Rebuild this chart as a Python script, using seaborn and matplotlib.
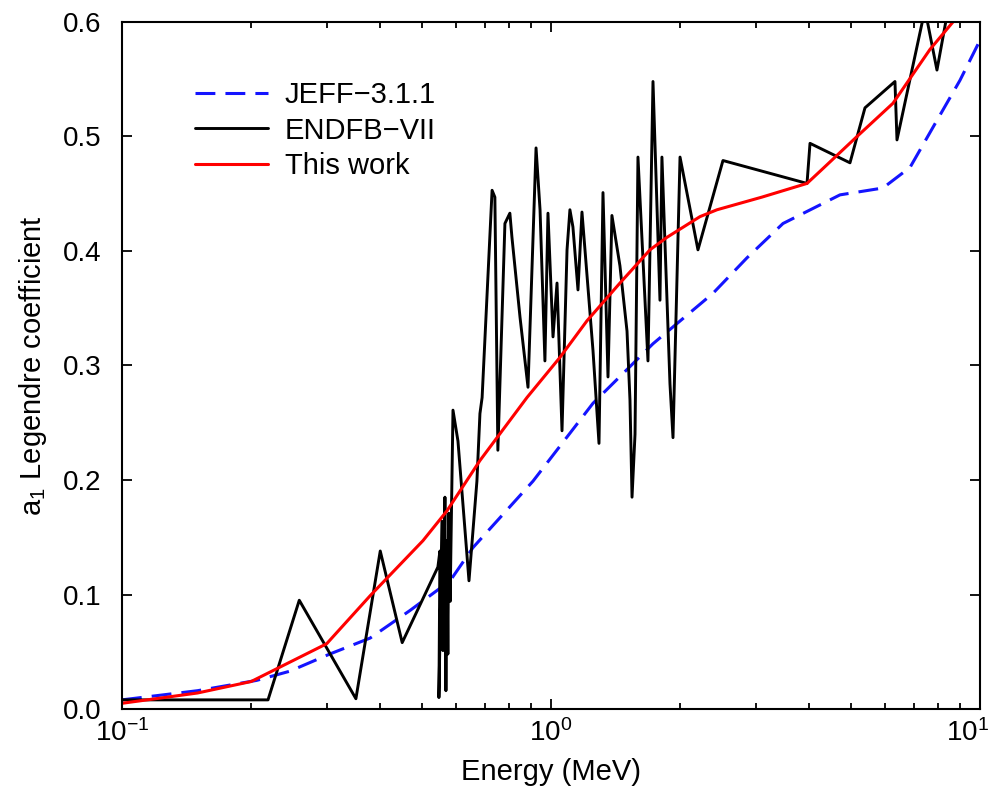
import numpy as np
import pandas as pd
import seaborn as sns
import matplotlib
matplotlib.use("Agg")
import matplotlib.pyplot as plt
import matplotlib.transforms as mtransforms
from matplotlib.ticker import LogLocator, FormatStrFormatter, NullFormatter, MultipleLocator

# JEFF-3.1.1 (blue dashed)
jeff_e = [0.1, 0.15, 0.206, 0.246, 0.305, 0.379, 0.469, 0.582, 0.658, 0.908, 1.253, 1.729,
          2.385, 2.863, 3.474, 4.717, 5.94, 6.87, 7.77, 8.98, 10.0]
jeff_a1 = [0.008, 0.016, 0.025, 0.033, 0.048, 0.062, 0.086, 0.112, 0.141, 0.199, 0.267, 0.319,
           0.363, 0.394, 0.424, 0.449, 0.455, 0.473, 0.508, 0.549, 0.584]

# ENDFB-VII (black)
endf_e = [0.100, 0.219, 0.259, 0.351, 0.400, 0.450, 0.545, 0.551, 0.548, 0.557, 0.560, 0.566,
          0.569, 0.572, 0.575, 0.578, 0.582, 0.591, 0.607, 0.644, 0.672, 0.683, 0.691, 0.729,
          0.740, 0.752, 0.781, 0.802, 0.811, 0.847, 0.884, 0.923, 0.943, 0.968, 0.984, 1.011,
          1.033, 1.061, 1.090, 1.107, 1.125, 1.156, 1.181, 1.253, 1.294, 1.322, 1.358, 1.387,
          1.448, 1.504, 1.528, 1.545, 1.570, 1.595, 1.683, 1.729, 1.795, 1.814, 1.894, 1.925,
          1.999, 2.201, 2.517, 3.952, 4.016, 4.977, 5.394, 6.336, 6.405, 7.444, 7.938, 8.51, 9.48]
endf_a1 = [0.008, 0.008, 0.095, 0.009, 0.138, 0.058, 0.124, 0.138, 0.010, 0.164, 0.051, 0.185,
           0.016, 0.147, 0.048, 0.171, 0.094, 0.261, 0.234, 0.112, 0.199, 0.258, 0.272, 0.453,
           0.447, 0.226, 0.424, 0.433, 0.412, 0.342, 0.281, 0.490, 0.436, 0.304, 0.433, 0.325,
           0.372, 0.243, 0.401, 0.436, 0.421, 0.366, 0.434, 0.313, 0.232, 0.451, 0.290, 0.431,
           0.387, 0.330, 0.270, 0.185, 0.240, 0.482, 0.304, 0.548, 0.357, 0.482, 0.284, 0.237,
           0.482, 0.401, 0.479, 0.459, 0.494, 0.477, 0.525, 0.548, 0.497, 0.611, 0.558, 0.620, 0.650]

# This work (red)
work_e = [0.1, 0.15, 0.2, 0.3, 0.379, 0.503, 0.572, 0.683, 0.879, 1.049, 1.213, 1.448,
          1.701, 1.865, 2.225, 2.438, 3.1, 3.952, 4.305, 5.169, 6.269, 7.645, 8.65, 9.73]
work_a1 = [0.005, 0.014, 0.024, 0.057, 0.099, 0.147, 0.173, 0.217, 0.272, 0.307, 0.339, 0.372,
           0.401, 0.412, 0.430, 0.436, 0.447, 0.459, 0.472, 0.500, 0.529, 0.576, 0.600, 0.625]

x_ticks = [0.1, 1, 10]
x_tick_labels = [r"$10^{-1}$", r"$10^{0}$", r"$10^{1}$"]

sns.set_style("ticks")
plt.rcParams['font.family'] = ['Liberation Sans', 'DejaVu Sans']
plt.rcParams['mathtext.fontset'] = 'custom'
plt.rcParams['mathtext.rm'] = 'Liberation Sans'
plt.rcParams['mathtext.it'] = 'Liberation Sans'
plt.rcParams['mathtext.default'] = 'regular'
plt.rcParams['text.color'] = 'black'
plt.rcParams['axes.labelcolor'] = 'black'
plt.rcParams['xtick.color'] = 'black'
plt.rcParams['ytick.color'] = 'black'

fig = plt.figure(figsize=(9.94, 7.90), dpi=100)
ax = fig.add_axes([0.1227, 0.1025, 0.8632, 0.8697])

sns.lineplot(x=jeff_e, y=jeff_a1, ax=ax, color="#1414ff", lw=2.2, sort=False,
             label="JEFF\u22123.1.1")
ax.lines[-1].set_dashes((6.5, 3.3))
sns.lineplot(x=endf_e, y=endf_a1, ax=ax, color="black", lw=2.1, sort=False,
             label="ENDFB\u2212VII")
sns.lineplot(x=work_e, y=work_a1, ax=ax, color="#ff0000", lw=2.2, sort=False,
             label="This work")

ax.set_xscale("log")
ax.set_xlim(0.1, 10)
ax.set_ylim(0, 0.6)
ax.yaxis.set_major_locator(MultipleLocator(0.1))
ax.yaxis.set_major_formatter(FormatStrFormatter('%.1f'))
ax.set_xticks(x_ticks, labels=x_tick_labels)
ax.xaxis.set_minor_locator(LogLocator(base=10, subs=np.arange(2, 10)))
ax.xaxis.set_minor_formatter(NullFormatter())

ax.tick_params(which="both", direction="in", top=True, right=True, labelsize=20,
               width=1.3, color="black")
ax.tick_params(which="major", length=7)
ax.tick_params(which="minor", length=4)
ax.tick_params(axis="y", pad=15)
ax.tick_params(axis="x", pad=7)
for s in ax.spines.values():
    s.set_linewidth(1.5)
    s.set_color("black")

ax.set_xlabel("Energy (MeV)", fontsize=21, labelpad=8)
ax.set_ylabel(r"a$_1$ Legendre coefficient", fontsize=21, labelpad=10)

ax.legend(loc="upper left", bbox_to_anchor=(0.085, 0.914), borderaxespad=0, borderpad=0,
          frameon=False, fontsize=21, handlelength=2.5, handletextpad=0.58,
          labelspacing=0.26)

# keep the last decade label inside the canvas
last = ax.get_xticklabels()[-1]
last.set_transform(last.get_transform() + mtransforms.ScaledTranslation(-12 / 100, 0, fig.dpi_scale_trans))

fig.savefig("out.png", dpi=100)
